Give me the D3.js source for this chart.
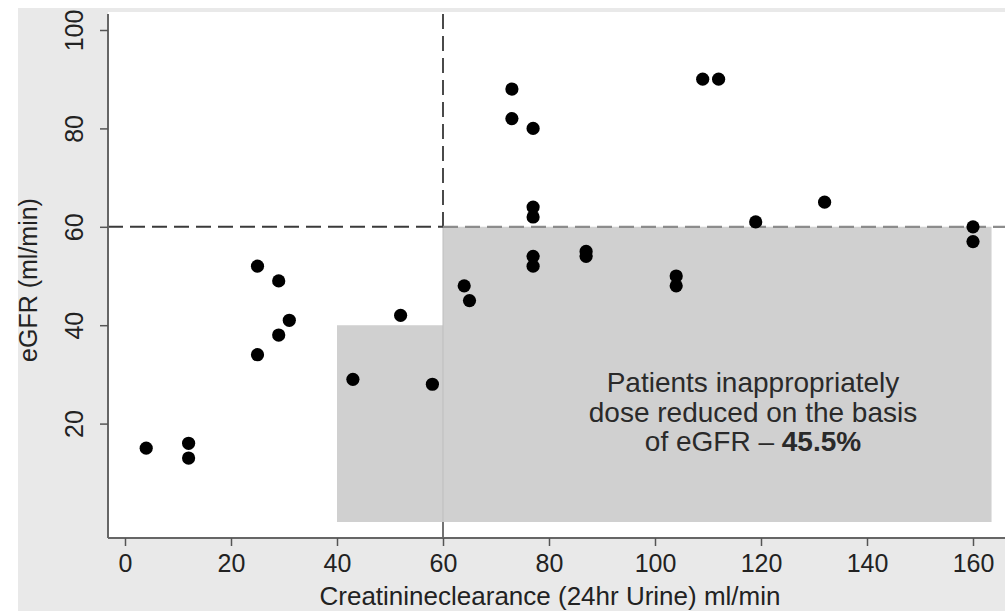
<!DOCTYPE html>
<html>
<head>
<meta charset="utf-8">
<script src="https://cdn.jsdelivr.net/npm/d3@7"></script>
<style>
  html, body { margin: 0; padding: 0; background: #ffffff; }
  svg { display: block; font-family: "Liberation Sans", Arial, Helvetica, sans-serif; }
</style>
</head>
<body>
<svg id="chart" width="1005" height="611"></svg>
<script>
// Creatinine clearance (24hr urine, ml/min) vs eGFR (ml/min) per patient
const clearance = [4, 12, 12, 25, 25, 29, 29, 31, 43, 52, 58, 64, 65, 73, 73, 77, 77, 77, 77, 77, 87, 87, 104, 104, 109, 112, 119, 132, 160, 160];
const egfr      = [15, 16, 13, 52, 34, 49, 38, 41, 29, 42, 28, 48, 45, 88, 82, 80, 64, 62, 54, 52, 55, 54, 50, 48, 90, 90, 61, 65, 60, 57];

const xTicks = [0, 20, 40, 60, 80, 100, 120, 140, 160];
const yTicks = [20, 40, 60, 80, 100];

// Cut-offs and the region of patients dose reduced on eGFR
const clearanceCut = 60;
const egfrCut = 60;
const regionOutline = [[40, 0], [40, 40], [60, 40], [60, 60], [163.5, 60], [163.5, 0]];

const annotationLines = ["Patients inappropriately", "dose reduced on the basis", "of eGFR \u2013 "];
const annotationBold = "45.5%";

const xLabel = "Creatinineclearance (24hr Urine) ml/min";
const yLabel = "eGFR (ml/min)";

const svg = d3.select("#chart");
const W = 1005, H = 611;

const x = d3.scaleLinear().domain([0, 160]).range([125, 973]);
const y = d3.scaleLinear().domain([0, 100]).range([522, 30]);

const xMin = x.invert(108), xMax = x.invert(1005);
const yMin = y.invert(538), yMax = y.invert(14);

// outer panel and plotting area
svg.append("rect").attr("x", 18).attr("y", 8).attr("width", W - 18).attr("height", H - 8).attr("fill", "#e9e9e9");
svg.append("rect").attr("x", x(xMin)).attr("y", 12).attr("width", W - x(xMin)).attr("height", y(yMin) - 12).attr("fill", "#ffffff");

const line = d3.line().x(d => x(d[0])).y(d => y(d[1]));

// vertical cut-off line (dashed above the threshold)
svg.append("path")
  .attr("d", line([[clearanceCut, yMax], [clearanceCut, egfrCut]]))
  .attr("stroke", "#4a4a4a").attr("stroke-width", 2).attr("stroke-dasharray", "15,7").attr("fill", "none");

// shaded region
svg.append("path")
  .attr("d", line(regionOutline) + "Z")
  .attr("fill", "#d0d0d0");

// cut-off line seen faintly through the shaded region
svg.append("path")
  .attr("d", line([[clearanceCut, egfrCut], [clearanceCut, 0]]))
  .attr("stroke", "#bdbdbd").attr("stroke-width", 1).attr("fill", "none");
svg.append("path")
  .attr("d", line([[clearanceCut, 0], [clearanceCut, yMin]]))
  .attr("stroke", "#444").attr("stroke-width", 1.5).attr("fill", "none");

// horizontal cut-off line
svg.append("path")
  .attr("d", line([[xMin, egfrCut], [clearanceCut, egfrCut]]))
  .attr("stroke", "#3a3a3a").attr("stroke-width", 2).attr("stroke-dasharray", "15,7").attr("fill", "none");
svg.append("path")
  .attr("d", line([[clearanceCut, egfrCut], [xMax, egfrCut]]))
  .attr("stroke", "#8c8c8c").attr("stroke-width", 2.2).attr("stroke-dasharray", "15,7").attr("fill", "none");

// annotation
const ann = svg.append("text")
  .attr("text-anchor", "middle")
  .attr("font-size", 28)
  .attr("fill", "#2a2a2a");
annotationLines.forEach((t, i) => {
  ann.append("tspan").attr("x", 753).attr("y", 392 + i * 29.5).text(t);
  if (i === annotationLines.length - 1) {
    ann.append("tspan").attr("font-weight", "bold").text(annotationBold);
  }
});

// axes
const xAxis = svg.append("g").attr("transform", `translate(0,${y(yMin)})`)
  .call(d3.axisBottom(x).tickValues(xTicks).tickSize(8).tickPadding(8).tickFormat(d3.format("d")));
xAxis.select(".domain").attr("d", `M${x(xMin)},0H${x(xMax)}`);

const yAxis = svg.append("g").attr("transform", `translate(${x(xMin)},0)`)
  .call(d3.axisLeft(y).tickValues(yTicks).tickSize(8).tickFormat(d3.format("d")));
yAxis.select(".domain").attr("d", `M0,${y(yMax)}V${y(yMin)}`);

[xAxis, yAxis].forEach(g => {
  g.select(".domain").attr("stroke", "#666").attr("stroke-width", 2);
  g.selectAll(".tick line").attr("stroke", "#555").attr("stroke-width", 1.5);
  g.selectAll(".tick text").attr("font-size", 25).attr("fill", "#222")
    .attr("font-family", "'Liberation Sans', Arial, sans-serif");
});
xAxis.selectAll(".tick text").attr("dy", null).attr("y", 34);
yAxis.selectAll(".tick text")
  .attr("x", null).attr("dy", null)
  .attr("text-anchor", "middle")
  .attr("transform", "translate(-25,0) rotate(-90)");

// axis titles
svg.append("text")
  .attr("x", 550).attr("y", 605)
  .attr("text-anchor", "middle").attr("font-size", 26).attr("fill", "#222")
  .text(xLabel);
svg.append("text")
  .attr("transform", "translate(37,280) rotate(-90)")
  .attr("text-anchor", "middle").attr("font-size", 25).attr("fill", "#222")
  .text(yLabel);

// patients
svg.append("g").selectAll("circle")
  .data(clearance.map((c, i) => ({ c, e: egfr[i] })))
  .join("circle")
  .attr("cx", d => x(d.c))
  .attr("cy", d => y(d.e))
  .attr("r", 6.6)
  .attr("fill", "#000");
</script>
</body>
</html>
